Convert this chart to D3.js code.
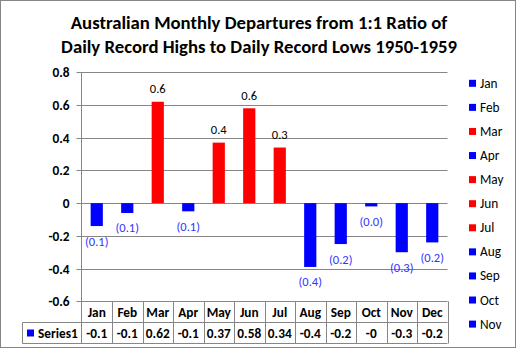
<!DOCTYPE html>
<html><head><meta charset="utf-8">
<script src="https://cdn.jsdelivr.net/npm/d3@7"></script>
<style>body{margin:0;background:#fff}svg{display:block}text{font-family:Carlito,"Liberation Sans",Arial,sans-serif}</style>
</head><body><svg id="c" width="517" height="350"></svg>
<script>
const months = ["Jan","Feb","Mar","Apr","May","Jun","Jul","Aug","Sep","Oct","Nov","Dec"];
const values = [-0.14,-0.06,0.62,-0.05,0.37,0.58,0.34,-0.39,-0.25,-0.02,-0.30,-0.24];
const barLabels = ["(0.1)","(0.1)","0.6","(0.1)","0.4","0.6","0.3","(0.4)","(0.2)","(0.0)","(0.3)","(0.2)"];
const tableLabels = ["-0.1","-0.1","0.62","-0.1","0.37","0.58","0.34","-0.4","-0.2","-0","-0.3","-0.2"];
const yTicks = [0.8,0.6,0.4,0.2,0,-0.2,-0.4,-0.6];
const yTickLabels = ["0.8","0.6","0.4","0.2","0","-0.2","-0.4","-0.6"];
const legendMonths = ["Jan","Feb","Mar","Apr","May","Jun","Jul","Aug","Sep","Oct","Nov"];
const seriesName = "Series1";
const titleLines = ["Australian Monthly Departures from 1:1 Ratio of","Daily Record Highs to Daily Record Lows 1950-1959"];

const RED="#ff0000", BLUE="#0000ff", GRID="#868686";
const svg = d3.select("#c");
const L=81.5, R=447.5, T=72.3, B=301.3;
const y = d3.scaleLinear().domain([-0.6,0.8]).range([B,T]);
const xc = d3.scaleBand().domain(months).range([L,R]).padding(0);
const col = v => v>=0?RED:BLUE;

// outer border
svg.append("rect").attr("x",0.5).attr("y",0.5).attr("width",515).attr("height",347).attr("fill","#fff").attr("stroke",GRID);

// title
const tg = svg.append("g").attr("font-weight","bold").attr("text-anchor","middle").attr("fill","#000");
const t2 = tg.append("text").attr("x",259).attr("y",53).attr("font-size",18).text(titleLines[1]);
const w = t2.node().getComputedTextLength();
const fs = Math.min(19, 18*396/w);
t2.attr("font-size",fs);
tg.append("text").attr("x",259).attr("y",29).attr("font-size",fs).text(titleLines[0]);

// gridlines + ticks
svg.append("g").selectAll("line").data(yTicks).join("line")
  .attr("x1",L-5).attr("x2",R).attr("y1",d=>Math.round(y(d))+0.5).attr("y2",d=>Math.round(y(d))+0.5)
  .attr("stroke",GRID).attr("stroke-width",1);
svg.append("g").selectAll("text").data(yTicks).join("text")
  .attr("x",69.5).attr("y",d=>Math.round(y(d))+5).attr("text-anchor","end")
  .attr("font-size",13.3).attr("font-weight","bold").text((d,i)=>yTickLabels[i]);

// bars
const bw = xc.bandwidth()*0.4;
svg.append("g").selectAll("rect").data(values).join("rect")
  .attr("x",(d,i)=>xc(months[i])+xc.bandwidth()*0.3)
  .attr("width",bw)
  .attr("y",d=>y(Math.max(0,d)))
  .attr("height",d=>Math.abs(y(d)-y(0)))
  .attr("fill",col);

// bar labels
svg.append("g").selectAll("text").data(values).join("text")
  .attr("x",(d,i)=>xc(months[i])+xc.bandwidth()/2)
  .attr("y",d=>d>=0?y(d)-8.5:y(d)+19.5)
  .attr("text-anchor","middle").attr("font-size",12.5)
  .attr("fill",d=>d>=0?"#000":"#3333ff")
  .text((d,i)=>barLabels[i]);

// y axis line
svg.append("line").attr("x1",L).attr("x2",L).attr("y1",T).attr("y2",343.5).attr("stroke",GRID);

// data table
const r1=B, r2=322.5, r3=343.5, TL=22.5;
const tb = svg.append("g").attr("stroke",GRID).attr("fill","none");
tb.append("line").attr("x1",TL).attr("x2",R).attr("y1",r2).attr("y2",r2);
tb.append("line").attr("x1",TL).attr("x2",R).attr("y1",r3).attr("y2",r3);
tb.append("line").attr("x1",TL).attr("x2",TL).attr("y1",r2).attr("y2",r3);
tb.selectAll(".v").data(months).join("line")
  .attr("x1",d=>Math.round(xc(d)+xc.bandwidth())+0.5).attr("x2",d=>Math.round(xc(d)+xc.bandwidth())+0.5)
  .attr("y1",r1).attr("y2",r3);
svg.append("g").selectAll("text").data(months).join("text")
  .attr("x",d=>xc(d)+xc.bandwidth()/2).attr("y",316.5).attr("text-anchor","middle")
  .attr("font-size",13.3).attr("font-weight","bold").text(d=>d);
svg.append("g").selectAll("text").data(tableLabels).join("text")
  .attr("x",(d,i)=>xc(months[i])+xc.bandwidth()/2).attr("y",337.5).attr("text-anchor","middle")
  .attr("font-size",13.3).attr("font-weight","bold").text(d=>d);
svg.append("rect").attr("x",27).attr("y",329.5).attr("width",7).attr("height",7).attr("fill",BLUE);
svg.append("text").attr("x",38).attr("y",337.5).attr("font-size",13.3).attr("font-weight","bold").text(seriesName);

// legend
const lg = svg.append("g");
const li = lg.selectAll("g").data(legendMonths).join("g")
  .attr("transform",(d,i)=>`translate(469,${83.3+i*24.08})`);
li.append("rect").attr("x",0).attr("y",-3.5).attr("width",7).attr("height",7)
  .attr("fill",d=>col(values[months.indexOf(d)]));
li.append("text").attr("x",11).attr("y",4.5).attr("font-size",13.3).text(d=>d);
</script></body></html>
